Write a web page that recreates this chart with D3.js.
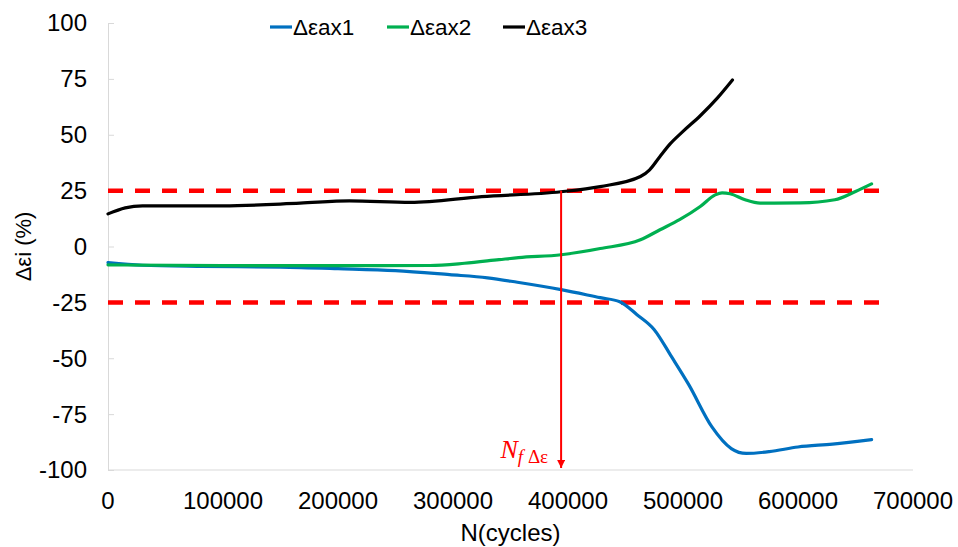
<!DOCTYPE html>
<html>
<head>
<meta charset="utf-8">
<script src="https://cdn.jsdelivr.net/npm/d3@7"></script>
<style>
  body { margin: 0; background: #fff; }
  text { font-family: "Liberation Sans", Arial, sans-serif; }
</style>
</head>
<body>
<div id="dataViz"></div>
<script>
// data
let cycles1 = [0, 30000, 80000, 150000, 200000, 250000, 297000, 330000, 356000, 394000, 428000, 445000, 460000, 475000, 490000, 505000, 525000, 542000, 555000, 575000, 600000, 630000, 664000];
let strain1 = [-7.2, -8.4, -8.9, -9.2, -9.9, -10.8, -12.6, -14, -16, -19.3, -22.9, -24.7, -30.5, -37.2, -49.3, -61.8, -80.6, -90.4, -92.6, -91.8, -89.7, -88.4, -86.4];

let cycles2 = [0, 100000, 200000, 280000, 310000, 340000, 357000, 394000, 428000, 463000, 480000, 497000, 515000, 528000, 534000, 541000, 554000, 567000, 602000, 632000, 650000, 664000];
let strain2 = [-8.2, -8.6, -8.6, -8.5, -7.5, -5.9, -5, -3.7, -0.9, 3, 7.5, 12, 17.9, 23.1, 24, 23.6, 20.9, 19.4, 19.5, 20.9, 24.6, 28];

let cycles3 = [0, 15000, 30000, 100000, 167000, 210000, 263000, 325000, 394000, 428000, 463000, 471000, 480000, 489000, 500000, 515000, 530000, 543000];
let strain3 = [14.6, 17.3, 18.2, 18.2, 19.4, 20.4, 19.7, 22.3, 24.5, 26.8, 31.3, 34.3, 40.3, 46, 51.5, 58.5, 66.5, 74.5];

let seriesNames = ["\u0394\u03b5ax1", "\u0394\u03b5ax2", "\u0394\u03b5ax3"];
let seriesColors = ["#0070C0", "#00B050", "#000000"];

let xTicks = [0, 100000, 200000, 300000, 400000, 500000, 600000, 700000];
let yTicks = [-100, -75, -50, -25, 0, 25, 50, 75, 100];

let limits = [25, -25];
let limitEnd = 674000;
let nfCycles = 394000;

let W = 958, H = 547;
let margin = { top: 23, right: 45, bottom: 77, left: 108 };

let svg = d3.select("#dataViz").append("svg")
    .attr("width", W)
    .attr("height", H);

let x = d3.scaleLinear().domain([0, 700000]).range([margin.left, W - margin.right]);
let y = d3.scaleLinear().domain([-100, 100]).range([H - margin.bottom, margin.top]);

// Y axis, ticks pointing inward
let yAxis = svg.append("g")
    .attr("transform", "translate(" + margin.left + ",0)")
    .call(d3.axisRight(y).tickValues(yTicks).tickSize(6).tickSizeOuter(0).tickFormat(""));
yAxis.select(".domain").attr("stroke", "#d9d9d9");
yAxis.selectAll(".tick line").attr("stroke", "#d9d9d9");

svg.append("g").selectAll("text")
    .data(yTicks)
    .enter().append("text")
    .attr("x", margin.left - 21)
    .attr("y", d => y(d))
    .attr("dy", "0.35em")
    .attr("text-anchor", "end")
    .attr("font-size", 24)
    .text(d => d);

// X axis, line only
svg.append("line")
    .attr("x1", x(0)).attr("x2", x(700000))
    .attr("y1", y(-100)).attr("y2", y(-100))
    .attr("stroke", "#d9d9d9");

svg.append("g").selectAll("text")
    .data(xTicks)
    .enter().append("text")
    .attr("x", d => x(d))
    .attr("y", y(-100) + 39)
    .attr("text-anchor", "middle")
    .attr("font-size", 24)
    .text(d => d);

// axis titles
svg.append("text")
    .attr("x", (margin.left + W - margin.right) / 2)
    .attr("y", H - 6)
    .attr("text-anchor", "middle")
    .attr("font-size", 24)
    .text("N(cycles)");

svg.append("text")
    .attr("transform", "translate(31," + y(0) + ") rotate(-90)")
    .attr("text-anchor", "middle")
    .attr("font-size", 22)
    .text("\u0394\u03b5i (%)");

// limit lines
svg.selectAll(".limit")
    .data(limits)
    .enter().append("line")
    .attr("class", "limit")
    .attr("x1", x(0)).attr("x2", x(limitEnd))
    .attr("y1", d => y(d)).attr("y2", d => y(d))
    .attr("stroke", "#ff0000")
    .attr("stroke-width", 4.5)
    .attr("stroke-dasharray", "15,12");

// curves
let allSeries = [[cycles1, strain1], [cycles2, strain2], [cycles3, strain3]];
let line = d3.line()
    .x(d => x(d[0]))
    .y(d => y(d[1]))
    .curve(d3.curveMonotoneX);

allSeries.forEach(function (s, i) {
    let pts = s[0].map((c, j) => [c, s[1][j]]);
    svg.append("path")
        .datum(pts)
        .attr("fill", "none")
        .attr("stroke", seriesColors[i])
        .attr("stroke-width", 3.2)
        .attr("stroke-linecap", "round")
        .attr("d", line);
});

// Nf marker with arrow
svg.append("defs").append("marker")
    .attr("id", "arrow")
    .attr("viewBox", "0 0 10 10")
    .attr("refX", 10).attr("refY", 5)
    .attr("markerWidth", 4).attr("markerHeight", 4)
    .attr("orient", "auto")
    .append("path")
    .attr("d", "M0,0L10,5L0,10z")
    .attr("fill", "#ff0000");

svg.append("line")
    .attr("x1", x(nfCycles)).attr("x2", x(nfCycles))
    .attr("y1", y(25)).attr("y2", y(-100) - 2)
    .attr("stroke", "#ff0000")
    .attr("stroke-width", 2)
    .attr("marker-end", "url(#arrow)");

let nf = svg.append("text")
    .attr("x", x(nfCycles) - 13)
    .attr("y", y(-100) - 12)
    .attr("text-anchor", "end")
    .attr("fill", "#ff0000")
    .style("font-family", "'Liberation Serif', 'DejaVu Serif', serif")
    .attr("font-style", "italic")
    .attr("font-size", 26);
nf.append("tspan").text("N");
nf.append("tspan").attr("font-size", 19).attr("dy", 5).text("f ");
nf.append("tspan").attr("font-size", 19).attr("font-style", "normal").text("\u0394\u03b5");

// legend
let legendX = [270, 387, 503];
let legend = svg.append("g").selectAll("g")
    .data(seriesNames)
    .enter().append("g")
    .attr("transform", (d, i) => "translate(" + legendX[i] + ",27)");
legend.append("line")
    .attr("x1", 0).attr("x2", 22)
    .attr("stroke", (d, i) => seriesColors[i])
    .attr("stroke-width", 3.2);
legend.append("text")
    .attr("x", 23)
    .attr("dy", "0.35em")
    .attr("font-size", 22.5)
    .text(d => d);
</script>
</body>
</html>
